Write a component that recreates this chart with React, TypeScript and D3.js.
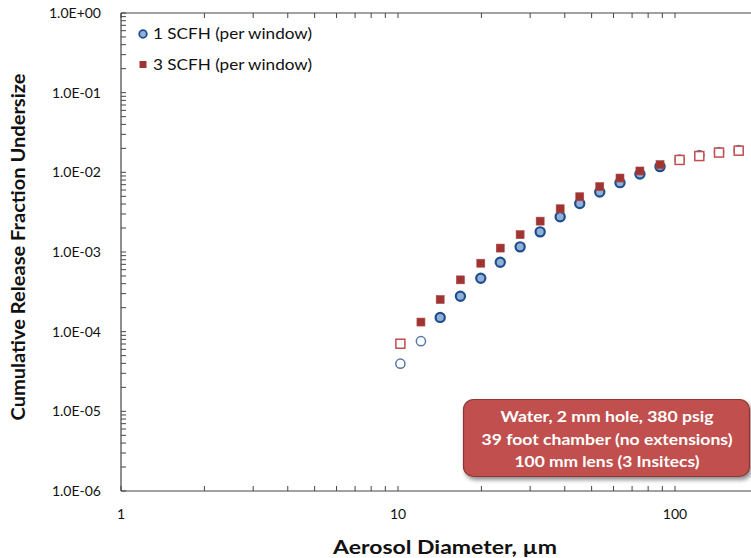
import React from "react";
import * as d3 from "d3";

const W = 751;
const H = 558;

const diameters = [10.2, 12.1, 14.2, 16.8, 19.9, 23.4, 27.6, 32.6, 38.5, 45.3, 53.5, 63.3, 74.7, 88.3, 103.9, 122.4, 144.2, 169.8];
const scfh1 = [3.96e-5, 7.6e-5, 1.51e-4, 2.78e-4, 4.68e-4, 7.44e-4, 1.16e-3, 1.79e-3, 2.77e-3, 4.07e-3, 5.65e-3, 7.42e-3, 9.52e-3, 1.18e-2, 1.45e-2, 1.64e-2, 1.8e-2, 1.9e-2];
const scfh1Hollow = [true, true, false, false, false, false, false, false, false, false, false, false, false, false, true, true, true, true];
const scfh3 = [7.06e-5, 1.32e-4, 2.53e-4, 4.47e-4, 7.23e-4, 1.12e-3, 1.65e-3, 2.44e-3, 3.49e-3, 4.94e-3, 6.61e-3, 8.48e-3, 1.04e-2, 1.25e-2, 1.43e-2, 1.6e-2, 1.77e-2, 1.87e-2];
const scfh3Hollow = [true, false, false, false, false, false, false, false, false, false, false, false, false, false, true, true, true, true];

const seriesNames = ["1 SCFH (per window)", "3 SCFH (per window)"];
const yTickValues = [1, 1e-1, 1e-2, 1e-3, 1e-4, 1e-5, 1e-6];
const yTickLabels = ["1.0E+00", "1.0E-01", "1.0E-02", "1.0E-03", "1.0E-04", "1.0E-05", "1.0E-06"];
const xTickValues = [1, 10, 100];
const xTickLabels = ["1", "10", "100"];
const noteLines = ["Water, 2 mm hole, 380 psig", "39 foot chamber (no extensions)", "100 mm lens (3 Insitecs)"];
const xTitle = "Aerosol Diameter, \u00b5m";
const yTitle = "Cumulative Release Fraction Undersize";

const FONT = "Lato, 'Open Sans', sans-serif";

export default function App() {
  const left = 121;
  const top = 13;
  const bottom = 491;
  const x = d3.scaleLog().domain([1, 200]).range([left, 121 + Math.log10(200) * 277]);
  const y = d3.scaleLog().domain([1e-6, 1]).range([bottom, top]);
  const right = x(200);

  // minor ticks
  const xMinor: number[] = [];
  for (let d = 1; d <= 100; d *= 10) {
    for (let k = 2; k <= 9; k++) if (d * k <= 200) xMinor.push(d * k);
  }
  const yMinor: number[] = [];
  for (let e = -6; e < 0; e++) {
    for (let k = 2; k <= 9; k++) yMinor.push(k * Math.pow(10, e));
  }

  return (
    <svg width={W} height={H} style={{ position: "absolute", left: 0, top: 0, background: "#fff" }} fontFamily={FONT}>
      <defs>
        <filter id="shadow" x="-10%" y="-20%" width="130%" height="150%">
          <feGaussianBlur in="SourceAlpha" stdDeviation="2" />
          <feOffset dx="2" dy="3" result="ob" />
          <feComponentTransfer>
            <feFuncA type="linear" slope="0.45" />
          </feComponentTransfer>
          <feMerge>
            <feMergeNode />
            <feMergeNode in="SourceGraphic" />
          </feMerge>
        </filter>
        <clipPath id="clip">
          <rect x={0} y={0} width={W} height={H} />
        </clipPath>
      </defs>

      {/* axes frame */}
      <g stroke="#444" strokeWidth={1.2} fill="none">
        <line x1={left} y1={top} x2={left} y2={bottom} />
        <line x1={left} y1={bottom} x2={right} y2={bottom} />
        <line x1={left} y1={top} x2={right} y2={top} />
        <line x1={right} y1={top} x2={right} y2={bottom} />
      </g>
      <g stroke="#444" strokeWidth={1}>
        {xMinor.concat(xTickValues).map((v, i) => (
          <g key={"xt" + i}>
            <line x1={x(v)} x2={x(v)} y1={bottom} y2={bottom - 5} />
            <line x1={x(v)} x2={x(v)} y1={top} y2={top + 5} />
          </g>
        ))}
        {yMinor.concat(yTickValues).map((v, i) => (
          <line key={"yt" + i} x1={left} x2={left + 5} y1={y(v)} y2={y(v)} />
        ))}
      </g>

      {/* tick labels */}
      <g fontSize={14} fill="#111">
        {yTickValues.map((v, i) => (
          <text key={"yl" + i} x={101} y={y(v)} dy="0.35em" textAnchor="end">
            {yTickLabels[i]}
          </text>
        ))}
        {xTickValues.map((v, i) => (
          <text key={"xl" + i} x={x(v)} y={514} dy="0.35em" textAnchor="middle">
            {xTickLabels[i]}
          </text>
        ))}
      </g>

      {/* titles */}
      <text x={445} y={548} dy="0.35em" textAnchor="middle" fontSize={18} fontWeight={700} fill="#111" textLength={224} lengthAdjust="spacingAndGlyphs">
        {xTitle}
      </text>
      <text transform={`translate(19,247) rotate(-90)`} textAnchor="middle" dy="0.35em" fontSize={18} fontWeight={700} fill="#111" textLength={347} lengthAdjust="spacingAndGlyphs">
        {yTitle}
      </text>

      {/* data */}
      <g clipPath="url(#clip)">
        {diameters.map((d, i) =>
          scfh1Hollow[i] ? (
            <circle key={"c" + i} cx={x(d)} cy={y(scfh1[i])} r={4.6} fill="#fff" stroke="#5577aa" strokeWidth={1.5} />
          ) : (
            <circle key={"c" + i} cx={x(d)} cy={y(scfh1[i])} r={4.6} fill="#8fb0d8" stroke="#1f4e8c" strokeWidth={2.2} />
          )
        )}
        {diameters.map((d, i) =>
          scfh3Hollow[i] ? (
            <rect key={"s" + i} x={x(d) - 4.5} y={y(scfh3[i]) - 4.5} width={9} height={9} fill="#fff" stroke="#c0504d" strokeWidth={1.5} />
          ) : (
            <rect key={"s" + i} x={x(d) - 4} y={y(scfh3[i]) - 4} width={8} height={8} fill="#9e3533" stroke="#b04845" strokeWidth={0.6} />
          )
        )}
      </g>

      {/* legend */}
      <g fontSize={15} fill="#111">
        <circle cx={143} cy={34} r={3.8} fill="#8fb0d8" stroke="#1f4e8c" strokeWidth={1.8} />
        <text x={153} y={34} dy="0.35em" textLength={159} lengthAdjust="spacingAndGlyphs">{seriesNames[0]}</text>
        <rect x={139.5} y={61} width={7} height={7} fill="#9e3533" />
        <text x={153} y={65} dy="0.35em" textLength={159} lengthAdjust="spacingAndGlyphs">{seriesNames[1]}</text>
      </g>

      {/* annotation */}
      <g filter="url(#shadow)">
        <rect x={463.5} y={399.5} width={286} height={77} rx={10} ry={10} fill="#c0504d" stroke="#8c3836" strokeWidth={1.2} />
      </g>
      <g fontSize={15} fill="#fff" fontWeight={700} textAnchor="middle">
        {noteLines.map((t, i) => (
          <text key={"n" + i} x={607} y={417 + i * 22.5} dy="0.35em" textLength={[213, 251, 185][i]} lengthAdjust="spacingAndGlyphs">
            {t}
          </text>
        ))}
      </g>
    </svg>
  );
}
